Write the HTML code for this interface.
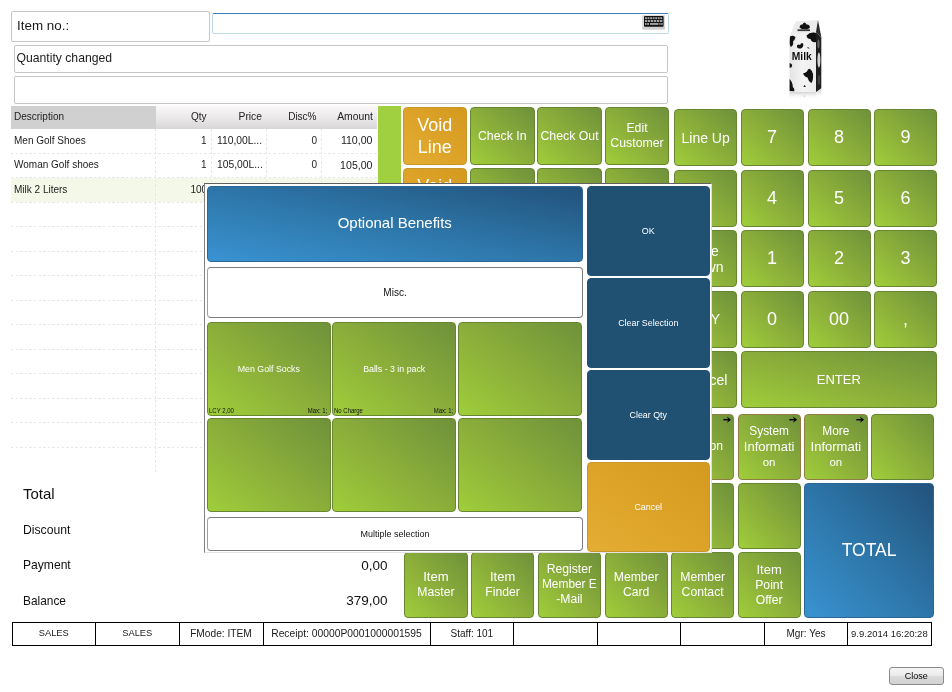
<!DOCTYPE html><html><head><meta charset="utf-8"><title>POS</title><style>
*{box-sizing:border-box;margin:0;padding:0}
html,body{width:952px;height:692px;background:#fff;overflow:hidden}
body{position:relative;font-family:"Liberation Sans",sans-serif;color:#1a1a1a}
.a{position:absolute}
.b{position:absolute;border-radius:4px;display:flex;align-items:center;justify-content:center;text-align:center;color:#fff;border:1px solid #67862f;background:linear-gradient(to top right,#9fce3a 0%,#8db03a 45%,#6f913b 100%);}
.g{}
.o{border-color:#c9962a;background:linear-gradient(to top right,#e4ad33 0%,#dca328 50%,#d39a1f 100%)}
.bl{border-color:#2a6796;background:linear-gradient(to top right,#3993d1 0%,#2d75a8 50%,#22527a 100%)}
.db{border-color:#205173;background:#205173}
.f18{font-size:18px;line-height:22px}
.f12{font-size:12.3px;line-height:15px}
.f14{font-size:14px;line-height:16px}
.f13{font-size:13px;line-height:15px}
.f122{font-size:12.2px;line-height:15px}
.f122 i,.f13 i{font-style:normal;font-size:13px}
.tan{border-color:#8f7d45}
.num{font-size:18px}
.box{position:absolute;border:1px solid #c6c6c6;background:#fff;border-radius:2px}
.hl{position:absolute;left:11px;width:366px;height:1px;background:repeating-linear-gradient(to right,#e6e6e6 0,#e6e6e6 2.4px,transparent 2.4px,transparent 4.6px)}
.vl{position:absolute;top:128.5px;height:343px;width:1px;background:repeating-linear-gradient(to bottom,#e6e6e6 0,#e6e6e6 2.4px,transparent 2.4px,transparent 4.6px)}
.t{position:absolute;font-size:10px;line-height:12px;white-space:nowrap}
.r{text-align:right}
.st{position:absolute;top:621px;height:24px;font-size:10px;display:flex;align-items:center;justify-content:center;white-space:nowrap}
.arr{position:absolute;right:4px;top:2px;font-size:9px;line-height:9px;color:#000;font-weight:bold}
.sm{position:absolute;font-size:6.8px;line-height:8px;color:#111;white-space:nowrap;transform:scaleX(0.88)}
.sl{transform-origin:left bottom}
.sr{transform-origin:right bottom}
.wb{position:absolute;border:1px solid #7c7c7c;border-left:1.300px solid #a0a0a0;border-radius:4px;background:#fff;display:flex;align-items:center;justify-content:center;color:#111}
</style></head><body>
<div class="box" style="left:11px;top:11px;width:199px;height:30.5px"></div>
<div class="a" style="left:17px;top:18px;font-size:13.4px;line-height:16px;white-space:nowrap">Item no.:</div>
<div class="a" style="left:212px;top:13px;width:456.5px;height:21px;border:1px solid #bfd9ec;border-top-color:#3f7fb5;border-radius:2px;background:#fff"></div>
<svg class="a" style="left:642px;top:15px" width="23" height="15" viewBox="0 0 23 15"><rect x="0" y="0" width="23" height="14.6" rx="1" fill="#dedcda"/><rect x="0" y="12" width="23" height="2.6" rx="1" fill="#cfcfcf"/><rect x="2" y="1" width="19.6" height="10.800" rx="0.8" fill="#111"/><g fill="#a2a2a2"><rect x="3.00" y="2.2" width="1.9" height="1.9"/><rect x="5.55" y="2.2" width="1.9" height="1.9"/><rect x="8.10" y="2.2" width="1.9" height="1.9"/><rect x="10.65" y="2.2" width="1.9" height="1.9"/><rect x="13.20" y="2.2" width="1.9" height="1.9"/><rect x="15.75" y="2.2" width="1.9" height="1.9"/><rect x="18.30" y="2.2" width="1.9" height="1.9"/><rect x="3.00" y="5" width="2.3" height="2"/><rect x="6.00" y="5" width="2.3" height="2"/><rect x="9.00" y="5" width="2.3" height="2"/><rect x="12.00" y="5" width="2.3" height="2"/><rect x="15.00" y="5" width="2.3" height="2"/><rect x="18.00" y="5" width="2.3" height="2"/><rect x="3" y="8" width="1.500" height="1.9"/><rect x="5.200" y="8" width="1.800" height="1.9"/><rect x="8" y="8" width="8.5" height="1.9"/><rect x="17.300" y="8" width="1.300" height="1.9"/><rect x="19.200" y="8" width="1.500" height="1.9"/></g></svg>
<div class="box" style="left:14px;top:45px;width:654px;height:28px"></div>
<div class="a" style="left:16.5px;top:51px;font-size:12.2px;line-height:15px;white-space:nowrap">Quantity changed</div>
<div class="box" style="left:14px;top:76px;width:654px;height:27.5px"></div>
<div class="a" style="left:11px;top:106px;width:366px;height:22.5px;background:linear-gradient(to bottom,#f9f7f7 0%,#ebe9e9 50%,#d8d6d6 100%)"></div>
<div class="a" style="left:11px;top:106px;width:144.5px;height:22.5px;background:#d0d0d0"></div>
<div class="a" style="left:11px;top:177.5px;width:366px;height:24.5px;background:#f3f8e8"></div>
<div class="hl" style="top:152.5px"></div>
<div class="hl" style="top:177px"></div>
<div class="hl" style="top:201.5px"></div>
<div class="hl" style="top:226px"></div>
<div class="hl" style="top:250.5px"></div>
<div class="hl" style="top:275px"></div>
<div class="hl" style="top:299.5px"></div>
<div class="hl" style="top:324px"></div>
<div class="hl" style="top:348.5px"></div>
<div class="hl" style="top:373px"></div>
<div class="hl" style="top:397.5px"></div>
<div class="hl" style="top:422px"></div>
<div class="hl" style="top:446.5px"></div>
<div class="vl" style="left:155px"></div>
<div class="vl" style="left:210.5px"></div>
<div class="vl" style="left:265.5px"></div>
<div class="vl" style="left:321px"></div>
<div class="t" style="left:14px;top:111px;color:#222;font-size:10px">Description</div>
<div class="t r" style="right:745.5px;top:111px;color:#222;font-size:10px">Qty</div>
<div class="t r" style="right:690px;top:111px;color:#222;font-size:10.3px">Price</div>
<div class="t r" style="right:635.5px;top:111px;color:#222;font-size:10px">Disc%</div>
<div class="t r" style="right:579px;top:111px;color:#222;font-size:10.4px">Amount</div>
<div class="t" style="left:14px;top:134.5px;color:#222;font-size:10px">Men Golf Shoes</div>
<div class="t r" style="right:745.5px;top:134.5px;color:#222;font-size:10px">1</div>
<div class="t" style="left:217px;top:134.5px;color:#222;font-size:10.3px">110,00L...</div>
<div class="t r" style="right:635px;top:134.5px;color:#222;font-size:10px">0</div>
<div class="t r" style="right:579.5px;top:134px;color:#222;font-size:10.6px">110,00</div>
<div class="t" style="left:14px;top:159px;color:#222;font-size:10px">Woman Golf shoes</div>
<div class="t r" style="right:745.5px;top:159px;color:#222;font-size:10px">1</div>
<div class="t" style="left:217px;top:159px;color:#222;font-size:10.3px">105,00L...</div>
<div class="t r" style="right:635px;top:159px;color:#222;font-size:10px">0</div>
<div class="t r" style="right:579.5px;top:158.5px;color:#222;font-size:10.6px">105,00</div>
<div class="t" style="left:14px;top:183.5px;color:#222;font-size:10px">Milk 2 Liters</div>
<div class="t" style="left:190.5px;top:183.5px;color:#222;font-size:10px">100</div>
<div class="a" style="left:378px;top:106px;width:23px;height:300px;background:#a0cf3f"></div>
<div class="a" style="left:23px;top:485.18px;font-size:15px;line-height:17.25px;white-space:nowrap;color:#111">Total</div>
<div class="a" style="left:23px;top:523.31px;font-size:12.2px;line-height:14.03px;white-space:nowrap;color:#111">Discount</div>
<div class="a" style="left:23px;top:559px;font-size:12.1px;line-height:13.91px;white-space:nowrap;color:#111">Payment</div>
<div class="a" style="left:23px;top:594.78px;font-size:11.9px;line-height:13.68px;white-space:nowrap;color:#111">Balance</div>
<div class="a r" style="right:564.5px;top:557.73px;font-size:13.5px;line-height:15.52px;white-space:nowrap;color:#111">0,00</div>
<div class="a r" style="right:564.5px;top:593.33px;font-size:13.5px;line-height:15.52px;white-space:nowrap;color:#111">379,00</div>
<div class="b o f18" style="left:402.5px;top:107px;width:64.5px;height:58px">Void<br>Line</div>
<div class="b g f12" style="left:470px;top:107px;width:64.5px;height:58px">Check In</div>
<div class="b g f12" style="left:537.25px;top:107px;width:64.5px;height:58px">Check Out</div>
<div class="b g f12" style="left:604.75px;top:107px;width:64.5px;height:58px">Edit<br>Customer</div>
<div class="b o f18" style="left:402.5px;top:168px;width:64.5px;height:58px">Void<br>Sale</div>
<div class="b g f12" style="left:470px;top:168px;width:64.5px;height:58px"></div>
<div class="b g f12" style="left:537.25px;top:168px;width:64.5px;height:58px"></div>
<div class="b g f12" style="left:604.75px;top:168px;width:64.5px;height:58px"></div>
<div class="b g f12" style="left:402.5px;top:230px;width:64.5px;height:58px"></div>
<div class="b g f12" style="left:470px;top:230px;width:64.5px;height:58px"></div>
<div class="b g f12" style="left:537.25px;top:230px;width:64.5px;height:58px"></div>
<div class="b g f12" style="left:604.75px;top:230px;width:64.5px;height:58px"></div>
<div class="b g f12" style="left:402.5px;top:291.5px;width:64.5px;height:58px"></div>
<div class="b g f12" style="left:470px;top:291.5px;width:64.5px;height:58px"></div>
<div class="b g f12" style="left:537.25px;top:291.5px;width:64.5px;height:58px"></div>
<div class="b g f12" style="left:604.75px;top:291.5px;width:64.5px;height:58px"></div>
<div class="b g f12" style="left:402.5px;top:353px;width:64.5px;height:58px"></div>
<div class="b g f12" style="left:470px;top:353px;width:64.5px;height:58px"></div>
<div class="b g f12" style="left:537.25px;top:353px;width:64.5px;height:58px"></div>
<div class="b g f12" style="left:604.75px;top:353px;width:64.5px;height:58px"></div>
<div class="b g f12" style="left:402.5px;top:414.5px;width:64.5px;height:58px"></div>
<div class="b g f12" style="left:470px;top:414.5px;width:64.5px;height:58px"></div>
<div class="b g f12" style="left:537.25px;top:414.5px;width:64.5px;height:58px"></div>
<div class="b g f12" style="left:604.75px;top:414.5px;width:64.5px;height:58px"></div>
<div class="b g f12" style="left:402.5px;top:476px;width:64.5px;height:58px"></div>
<div class="b g f12" style="left:470px;top:476px;width:64.5px;height:58px"></div>
<div class="b g f12" style="left:537.25px;top:476px;width:64.5px;height:58px"></div>
<div class="b g f12" style="left:604.75px;top:476px;width:64.5px;height:58px"></div>
<div class="b g f14" style="left:674px;top:109px;width:63.25px;height:57px">Line Up</div>
<div class="b g num" style="left:740.5px;top:109px;width:63.25px;height:57px">7</div>
<div class="b g num" style="left:807.5px;top:109px;width:63.25px;height:57px">8</div>
<div class="b g num" style="left:874px;top:109px;width:63.25px;height:57px">9</div>
<div class="b g f14" style="left:674px;top:169.5px;width:63.25px;height:57px"></div>
<div class="b g num" style="left:740.5px;top:169.5px;width:63.25px;height:57px">4</div>
<div class="b g num" style="left:807.5px;top:169.5px;width:63.25px;height:57px">5</div>
<div class="b g num" style="left:874px;top:169.5px;width:63.25px;height:57px">6</div>
<div class="b g f14" style="left:674px;top:230px;width:63.25px;height:57px">Line<br>Down</div>
<div class="b g num" style="left:740.5px;top:230px;width:63.25px;height:57px">1</div>
<div class="b g num" style="left:807.5px;top:230px;width:63.25px;height:57px">2</div>
<div class="b g num" style="left:874px;top:230px;width:63.25px;height:57px">3</div>
<div class="b g f14" style="left:674px;top:290.5px;width:63.25px;height:57px">QTY</div>
<div class="b g num" style="left:740.5px;top:290.5px;width:63.25px;height:57px">0</div>
<div class="b g num" style="left:807.5px;top:290.5px;width:63.25px;height:57px">00</div>
<div class="b g num" style="left:874px;top:290.5px;width:63.25px;height:57px">,</div>
<div class="b g f14" style="left:674px;top:351px;width:63.25px;height:57px">Cancel</div>
<div class="b g f13" style="left:740.5px;top:351px;width:196.7px;height:57px">ENTER</div>
<div class="b g f122 tan" style="left:671px;top:414px;width:63.25px;height:65.5px">Section<svg class="a" style="right:2px;top:0.5px" width="8.500" height="7.400" viewBox="0 0 8 7"><path d="M0.3 3.5H6.5" fill="none" stroke="#000" stroke-width="1.4"/><path d="M3.800 0.500L7.600 3.500L3.800 6.500L5 3.500Z" fill="#000"/></svg></div>
<div class="b g f122 tan" style="left:737.5px;top:414px;width:63.25px;height:65.5px"><span><span style="font-size:11.9px">System</span><br><i>Informati</i><br><span style="font-size:11.5px">on</span></span><svg class="a" style="right:2px;top:0.5px" width="8.500" height="7.400" viewBox="0 0 8 7"><path d="M0.3 3.5H6.5" fill="none" stroke="#000" stroke-width="1.4"/><path d="M3.800 0.500L7.600 3.500L3.800 6.500L5 3.500Z" fill="#000"/></svg></div>
<div class="b g f122 tan" style="left:804.25px;top:414px;width:63.25px;height:65.5px"><span><span style="font-size:11.9px">More</span><br><i>Informati</i><br><span style="font-size:11.5px">on</span></span><svg class="a" style="right:2px;top:0.5px" width="8.500" height="7.400" viewBox="0 0 8 7"><path d="M0.3 3.5H6.5" fill="none" stroke="#000" stroke-width="1.4"/><path d="M3.800 0.500L7.600 3.500L3.800 6.500L5 3.500Z" fill="#000"/></svg></div>
<div class="b g f13" style="left:871px;top:414px;width:63.25px;height:65.5px"></div>
<div class="b g f13" style="left:671px;top:483px;width:63.25px;height:65.5px"></div>
<div class="b g f13" style="left:737.5px;top:483px;width:63.25px;height:65.5px"></div>
<div class="b bl" style="left:804.25px;top:483px;width:129.75px;height:134.5px"><span style="font-size:17.5px">TOTAL</span></div>
<div class="b g f122" style="left:404.25px;top:552px;width:63.25px;height:65.5px"><span><i>Item</i><br>Master</span></div>
<div class="b g f122" style="left:471px;top:552px;width:63.25px;height:65.5px"><span><i>Item</i><br>Finder</span></div>
<div class="b g f122" style="left:537.75px;top:552px;width:63.25px;height:65.5px"><span>Register<br><span style="font-size:11.9px">Member E</span><br>-Mail</span></div>
<div class="b g f122" style="left:604.5px;top:552px;width:63.25px;height:65.5px">Member<br>Card</div>
<div class="b g f122" style="left:671px;top:552px;width:63.25px;height:65.5px">Member<br>Contact</div>
<div class="b g f122" style="left:737.5px;top:552px;width:63.25px;height:65.5px"><span><i>Item</i><br>Point<br>Offer</span></div>
<div class="a" style="left:12px;top:622px;width:919.5px;height:24px;border:1px solid #000;background:#fff"></div>
<div class="st" style="left:12px;width:83.5px"><span style="font-size:9.3px">SALES</span></div>
<div class="a" style="left:95px;top:622px;width:1.3px;height:24px;background:#000"></div>
<div class="st" style="left:95.5px;width:83.5px"><span style="font-size:9.3px">SALES</span></div>
<div class="a" style="left:179px;top:622px;width:1.3px;height:24px;background:#000"></div>
<div class="st" style="left:179px;width:84px"><span style="font-size:10.2px">FMode: ITEM</span></div>
<div class="a" style="left:263px;top:622px;width:1.3px;height:24px;background:#000"></div>
<div class="st" style="left:263px;width:167px"><span style="font-size:10.3px">Receipt: 00000P0001000001595</span></div>
<div class="a" style="left:430px;top:622px;width:1.3px;height:24px;background:#000"></div>
<div class="st" style="left:430px;width:83.75px">Staff: 101</div>
<div class="a" style="left:513px;top:622px;width:1.3px;height:24px;background:#000"></div>
<div class="a" style="left:597px;top:622px;width:1.3px;height:24px;background:#000"></div>
<div class="a" style="left:680px;top:622px;width:1.3px;height:24px;background:#000"></div>
<div class="a" style="left:764px;top:622px;width:1.3px;height:24px;background:#000"></div>
<div class="st" style="left:764.25px;width:83.5px">Mgr: Yes</div>
<div class="a" style="left:847px;top:622px;width:1.3px;height:24px;background:#000"></div>
<div class="st" style="left:847.75px;width:83.25px"><span style="font-size:9.5px">9.9.2014 16:20:28</span></div>
<div class="a" style="left:888.5px;top:667px;width:55.5px;height:17.5px;border:1px solid #8a8a8a;border-radius:3px;background:linear-gradient(to bottom,#f4f4f4 0%,#ececec 45%,#dadada 55%,#d2d2d2 100%);font-size:9px;display:flex;align-items:center;justify-content:center;color:#000">Close</div>
<svg class="a" style="left:780px;top:10px" width="60" height="95" viewBox="780 10 60 95">
<defs><linearGradient id="fade" x1="0" y1="0" x2="0" y2="1"><stop offset="0" stop-color="#c8c8c8" stop-opacity="0.9"/><stop offset="1" stop-color="#ffffff" stop-opacity="0"/></linearGradient>
<linearGradient id="face" x1="0" y1="0" x2="1" y2="0"><stop offset="0" stop-color="#e4e4e4"/><stop offset="0.5" stop-color="#f4f4f4"/><stop offset="1" stop-color="#ebebeb"/></linearGradient></defs>
<polygon points="789.5,91.5 816,92 816,99.500 789.5,98.500" fill="url(#fade)"/>
<polygon points="816,92 821.3,88.5 821.3,94.500 816,99.500" fill="url(#fade)"/>
<polygon points="795.8,21.5 818,19.9 816,31.8 789.8,35.5" fill="#ececec"/>
<polygon points="818,19.9 821.5,38 816,31.8" fill="#2a2a2a"/>
<polygon points="789.5,35.5 816,31.8 816,92 789.5,91.4" fill="url(#face)"/>
<polygon points="816,31.8 821.3,38 821.3,88.3 816,92" fill="#1e1e1e"/>
<ellipse cx="818.9" cy="60" rx="1.500" ry="7.500" fill="#d4d4d4"/>
<ellipse cx="818.5" cy="44" rx="1.100" ry="4.500" fill="#666"/>
<ellipse cx="819" cy="80" rx="1.100" ry="5" fill="#444"/>
<path d="M799.500 27.500 q0.500-3.500 3-3 q2-4 4 0 q3-0.500 3.500 3 q-2 2.500-5 1.500 q-3 1-5.500-1.500z" fill="#111"/>
<rect x="797.500" y="29.300" width="12.500" height="1.800" fill="#3a3a3a"/>
<path d="M790 36.500 q4-2 5.500 1 q-1 3-2.500 4 q1 3.500-2.200 5.500 q-1.300-1-1.100-4.500z" fill="#111"/>
<path d="M806.500 35.500 q3-3.500 7.500-3 l2 0.500 v9 q-4 1-5.500-3 q-3.500 0-4-3.500z" fill="#111"/>
<path d="M797 45.500 q1.500-1.500 3-0.500 q1.500-3 3-1.500 q1.200 3-2 5 q-3 0.500-4-1.200z" fill="#111"/>
<path d="M807 47.500 q1.500-1 2.500 0.800 q-1.200 0.800-2.500-0.800z" fill="#222"/>
<path d="M803 73.500 q2-0.500 4-2 q1.200-3.500 3-2.500 q2 1 3 5 q0.500 6-1.500 9 q-2.500-1-4-5.500 q-3-0.500-4.500-4z" fill="#111"/>
<path d="M789.600 79 q3 3 3.200 8 q2 1.500 1.500 4.200 l-4.700-0.100z" fill="#111"/>
<path d="M789.600 63 q2.600 0.500 2.600 2.700 q-0.500 2.300-2.600 2z" fill="#111"/>
<circle cx="804.500" cy="96" r="0.500" fill="#999"/>
<path d="M803.300 87 l1.300-2.200 l1.300 2.200z" fill="#222"/>
<text x="801.800" y="59.600" font-family="Liberation Sans, sans-serif" font-weight="bold" font-size="10.500" text-anchor="middle" fill="#111" textLength="20" lengthAdjust="spacingAndGlyphs">Milk</text>
</svg>
<div class="a" style="left:204px;top:183px;width:508px;height:370px;background:#fff;border:1px solid #606060;border-left-color:#808080;border-right-color:#dcdcdc;border-bottom-color:#e4e4e4"></div>
<div class="b bl" style="left:207px;top:186px;width:375.5px;height:76px"><span style="font-size:15px;position:relative;top:-1.5px">Optional Benefits</span></div>
<div class="wb" style="left:207px;top:267px;width:376px;height:50.5px;font-size:10px">Misc.</div>
<div class="b g" style="left:207px;top:322px;width:123.6px;height:93.8px"><span style="font-size:8.8px">Men Golf Socks</span><span class="sm sl" style="left:0.5px;bottom:0px">LCY 2,00</span><span class="sm sr" style="right:2px;bottom:0px">Max: 1;</span></div>
<div class="b g" style="left:332.4px;top:322px;width:123.6px;height:93.8px"><span style="font-size:8.8px">Balls - 3 in pack</span><span class="sm sl" style="left:0.5px;bottom:0px">No Charge</span><span class="sm sr" style="right:2px;bottom:0px">Max: 1;</span></div>
<div class="b g" style="left:458px;top:322px;width:123.6px;height:93.8px"></div>
<div class="b g" style="left:207px;top:418.3px;width:123.6px;height:94.2px"></div>
<div class="b g" style="left:332.4px;top:418.3px;width:123.6px;height:94.2px"></div>
<div class="b g" style="left:458px;top:418.3px;width:123.6px;height:94.2px"></div>
<div class="wb" style="left:207px;top:517px;width:376px;height:33.5px;font-size:9px">Multiple selection</div>
<div class="b db" style="left:587px;top:185.5px;width:122.5px;height:90px"><span style="font-size:8.9px">OK</span></div>
<div class="b db" style="left:587px;top:278px;width:122.5px;height:89.5px"><span style="font-size:8.9px">Clear Selection</span></div>
<div class="b db" style="left:587px;top:370px;width:122.5px;height:90px"><span style="font-size:8.9px">Clear Qty</span></div>
<div class="b o" style="left:587px;top:462px;width:122.5px;height:89.5px"><span style="font-size:8.9px">Cancel</span></div>
</body></html>
